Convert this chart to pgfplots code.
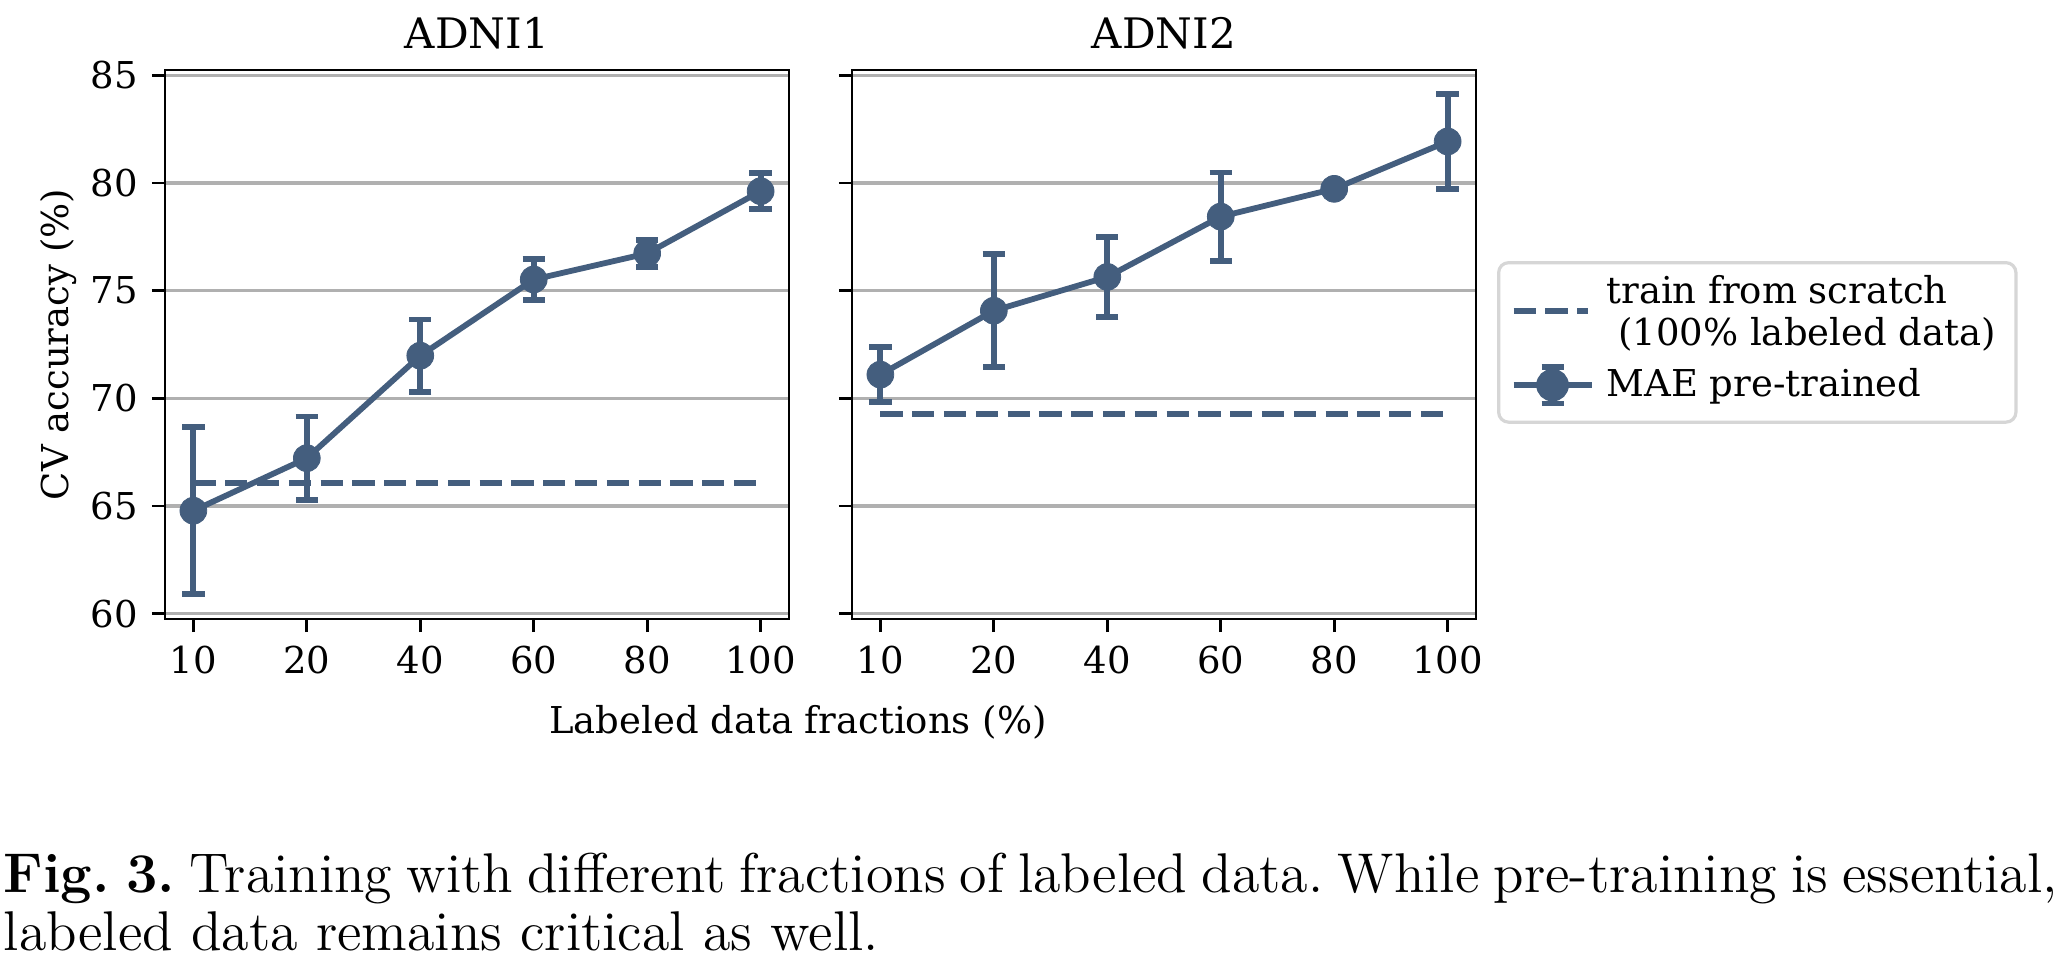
\documentclass[border=0pt]{standalone}
\usepackage{fontspec}
\newfontfamily\dejavu{DejaVu Serif}
\usepackage{pgfplots}
\pgfplotsset{compat=1.18}
\usepackage{pgfplotstable}
\definecolor{maecolor}{RGB}{68,94,126}
\definecolor{gridgray}{RGB}{176,176,176}
\definecolor{legendgray}{RGB}{214,214,214}

% x = category index (0..5 for 10,20,40,60,80,100 %), y = mean CV accuracy, e = std
\pgfplotstableread{
x y e
0 64.78 3.87
1 67.22 1.94
2 71.98 1.68
3 75.52 0.95
4 76.73 0.63
5 79.62 0.83
}\adnione
\pgfplotstableread{
x y e
0 71.10 1.28
1 74.07 2.63
2 75.64 1.85
3 78.44 2.05
4 79.73 0.15
5 81.93 2.19
}\adnitwo

\newcommand{\chartfont}{\dejavu\fontsize{9.25}{10.6}\selectfont}

\pgfplotsset{
  myax/.style={
    scale only axis, width=156pt, height=137.25pt,
    xmin=-0.25, xmax=5.25, ymin=59.75, ymax=85.25,
    clip=false,
    xtick={0,1,2,3,4,5}, xticklabels={10,20,40,60,80,100},
    ytick={60,65,70,75,80,85},
    xtick pos=bottom, ytick pos=left,
    tick align=outside, major tick length=3.3pt,
    tick style={black, line width=0.7pt},
    axis line style={black, line width=0.7pt},
    ymajorgrids, grid style={color=gridgray, line width=0.8pt},
    tick label style={font=\chartfont},
    /pgf/number format/assume math mode=true,
    label style={font=\chartfont},
  },
  dashline/.style={color=maecolor, line width=1.45pt, dash pattern=on 5.55pt off 2.4pt, no marks},
  maeline/.style={color=maecolor, line width=1.45pt, solid, mark=*, mark size=3.35pt,
    mark options={solid, fill=maecolor, draw=maecolor, line width=0.2pt},
    error bars/.cd, y dir=both, y explicit,
    error bar style={line width=1.45pt, solid, color=maecolor},
    error mark options={line width=1.45pt, mark size=2.8pt, color=maecolor, rotate=90}},
}

\begin{document}
\begin{tikzpicture}
\path[use as bounding box] (0,0) rectangle (518pt,-240.5pt);

\begin{axis}[myax, at={(41.25pt,-154.75pt)}, anchor=south west,
  ylabel={CV accuracy (\%)},
  ylabel style={at={(axis description cs:-0.1554,0.5)}, anchor=base, rotate=0},
  xlabel={Labeled data fractions (\%)},
  xlabel style={at={(axis description cs:1.0144,-0.2077)}, anchor=base},
]
\addplot[dashline] coordinates {(0,66.06) (5,66.06)};
\addplot[maeline] table[x=x, y=y, y error=e] {\adnione};
\node[anchor=base, inner sep=0pt, font=\dejavu\fontsize{10.5}{12}\selectfont, yshift=5.3pt] at (rel axis cs:0.5,1) {ADNI1};
\end{axis}

\begin{axis}[myax, at={(213pt,-154.75pt)}, anchor=south west,
  yticklabels={},
  legend cell align=left,
  legend style={at={(axis description cs:1.0337,0.652)}, anchor=north west,
    draw=legendgray, line width=0.8pt, rounded corners=2.5pt, fill=white,
    font=\chartfont,
    inner xsep=3pt, inner ysep=3pt, row sep=3pt,
    /tikz/every odd column/.append style={column sep=1pt}},
]
\addplot[legend image code/.code={\draw[maecolor, line width=1.45pt, dash pattern=on 5.55pt off 2.4pt] (0pt,0pt) -- (18.5pt,0pt);}, dashline] coordinates {(0,69.26) (5,69.26)};
\addlegendentry{\raisebox{2.2pt}[\height][\depth]{\begin{tabular}{@{}l@{}}train from scratch\\\ (100\% labeled data)\end{tabular}}}
\addplot[legend image code/.code={
  \draw[maecolor, line width=1.45pt] (0pt,0pt) -- (19.5pt,0pt);
  \draw[maecolor, line width=1.45pt] (9.75pt,-4.6pt) -- (9.75pt,4.6pt);
  \draw[maecolor, line width=1.45pt] (7pt,-4.6pt) -- (12.5pt,-4.6pt);
  \draw[maecolor, line width=1.45pt] (7pt,4.6pt) -- (12.5pt,4.6pt);
  \fill[maecolor] (9.75pt,0pt) circle (3.35pt);}, maeline] table[x=x, y=y, y error=e] {\adnitwo};
\addlegendentry{MAE pre-trained}
\node[anchor=base, inner sep=0pt, font=\dejavu\fontsize{10.5}{12}\selectfont, yshift=5.3pt] at (rel axis cs:0.5,1) {ADNI2};
\end{axis}

\node[anchor=base west, inner sep=0pt, font=\fontsize{14}{15}\selectfont] at (0.75pt,-223pt)
  {\frenchspacing\makebox[513.5pt][s]{\textbf{Fig. 3.} Training with different fractions of labeled data. While pre-training is essential,}};
\node[anchor=base west, inner sep=0pt, font=\fontsize{14}{15}\selectfont] at (0.75pt,-237.5pt)
  {\frenchspacing labeled data remains critical as well.};
\end{tikzpicture}
\end{document}
